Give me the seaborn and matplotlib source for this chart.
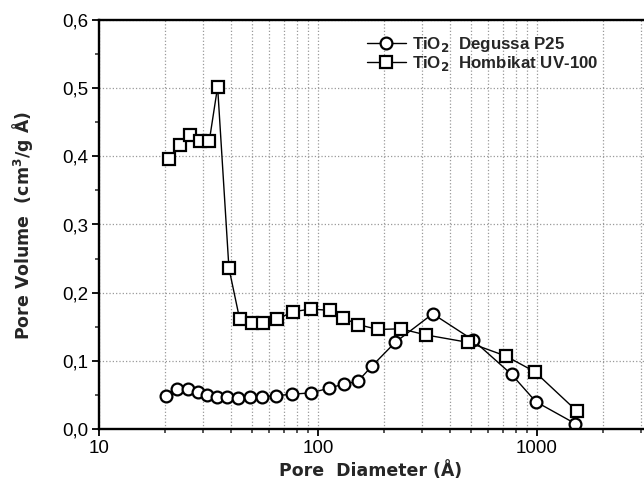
import matplotlib
matplotlib.use("Agg")
import matplotlib.pyplot as plt
import matplotlib.ticker as mticker
import seaborn as sns
import pandas as pd

# Degussa P25 (circles)
p25_d = [20.2, 22.8, 25.4, 28.2, 31.2, 34.6, 38.4, 42.9, 48.9, 55.5, 64.5, 76,
         92.7, 112.8, 131, 152, 176, 225, 334, 508, 766, 988, 1493]
p25_v = [0.049, 0.059, 0.059, 0.055, 0.050, 0.047, 0.047, 0.046, 0.047, 0.047,
         0.049, 0.051, 0.053, 0.060, 0.066, 0.070, 0.092, 0.127, 0.169, 0.131,
         0.080, 0.040, 0.008]

# Hombikat UV-100 (squares)
uv_d = [20.8, 23.5, 26.1, 28.8, 31.9, 34.8, 39.2, 43.9, 49.7, 56.2, 65, 76.6,
        92.9, 113.5, 130, 153, 188, 239, 311, 486, 721, 977, 1524]
uv_v = [0.396, 0.416, 0.432, 0.422, 0.423, 0.502, 0.236, 0.161, 0.155, 0.156,
        0.161, 0.172, 0.176, 0.174, 0.163, 0.153, 0.146, 0.147, 0.138, 0.127,
        0.107, 0.084, 0.026]

x_ticks = [10, 100, 1000]
x_ticklabels = ["10", "100", "1000"]
y_ticks = [0.0, 0.1, 0.2, 0.3, 0.4, 0.5, 0.6]
y_ticklabels = ["0,0", "0,1", "0,2", "0,3", "0,4", "0,5", "0,6"]

sns.set_style("ticks")
plt.rcParams["font.family"] = ["Liberation Sans", "DejaVu Sans"]

fig = plt.figure(figsize=(6.44, 4.84), dpi=100)
# right edge of the picture cuts the axis a bit past 3000
ax = fig.add_axes([99 / 644, 55 / 484, 545 / 644, 409 / 484])

df_p25 = pd.DataFrame({"d": p25_d, "v": p25_v})
df_uv = pd.DataFrame({"d": uv_d, "v": uv_v})

common = dict(color="black", linewidth=1.0, markersize=8.5,
              markerfacecolor="white", markeredgecolor="black",
              markeredgewidth=1.6)
sns.lineplot(data=df_p25, x="d", y="v", marker="o", ax=ax,
             label=r"TiO$_\mathbf{2}$  Degussa P25", **common)
sns.lineplot(data=df_uv, x="d", y="v", marker="s", ax=ax,
             label=r"TiO$_\mathbf{2}$  Hombikat UV-100", **common)

ax.set_xscale("log")
ax.set_xlim(10, 10 ** (1 + 545 / 219))
ax.set_ylim(0, 0.6)

ax.set_xticks(x_ticks)
ax.set_xticklabels(x_ticklabels)
ax.xaxis.set_minor_locator(mticker.LogLocator(base=10, subs=range(2, 10)))
ax.xaxis.set_minor_formatter(mticker.NullFormatter())
ax.set_yticks(y_ticks)
ax.set_yticklabels(y_ticklabels)
ax.yaxis.set_minor_locator(mticker.MultipleLocator(0.05))

ax.tick_params(axis="both", which="major", direction="out", length=5,
               width=1.3, labelsize=13.5, colors="black", pad=3)
ax.tick_params(axis="both", which="minor", direction="out", length=3, width=1.1)

ax.grid(which="major", axis="y", linestyle=":", color="#999999", linewidth=0.9)
ax.grid(which="both", axis="x", linestyle=":", color="#999999", linewidth=0.9)

for side in ["left", "bottom", "top"]:
    ax.spines[side].set_linewidth(1.7)
    ax.spines[side].set_color("black")
ax.spines["right"].set_visible(False)

ax.set_xlabel("Pore  Diameter (Å)", fontsize=12.5, fontweight="bold",
              family="DejaVu Sans")
ax.set_ylabel("Pore Volume  (cm$^\\mathbf{3}$/g Å)", fontsize=12.5,
              fontweight="bold", family="DejaVu Sans")
ax.xaxis.set_label_coords((371 - 99) / 545, -(461 - 429) / 409)
ax.yaxis.set_label_coords(-(99 - 35) / 545, (429 - 226) / 409)

leg = ax.legend(loc="upper left", bbox_to_anchor=((360 - 99) / 545, 0.98),
                frameon=False, fontsize=12.2, handlelength=2.3,
                handletextpad=0.35, labelspacing=0.0, borderaxespad=0)
for t in leg.get_texts():
    t.set_fontweight("bold")

fig.savefig("out.png", dpi=100)
